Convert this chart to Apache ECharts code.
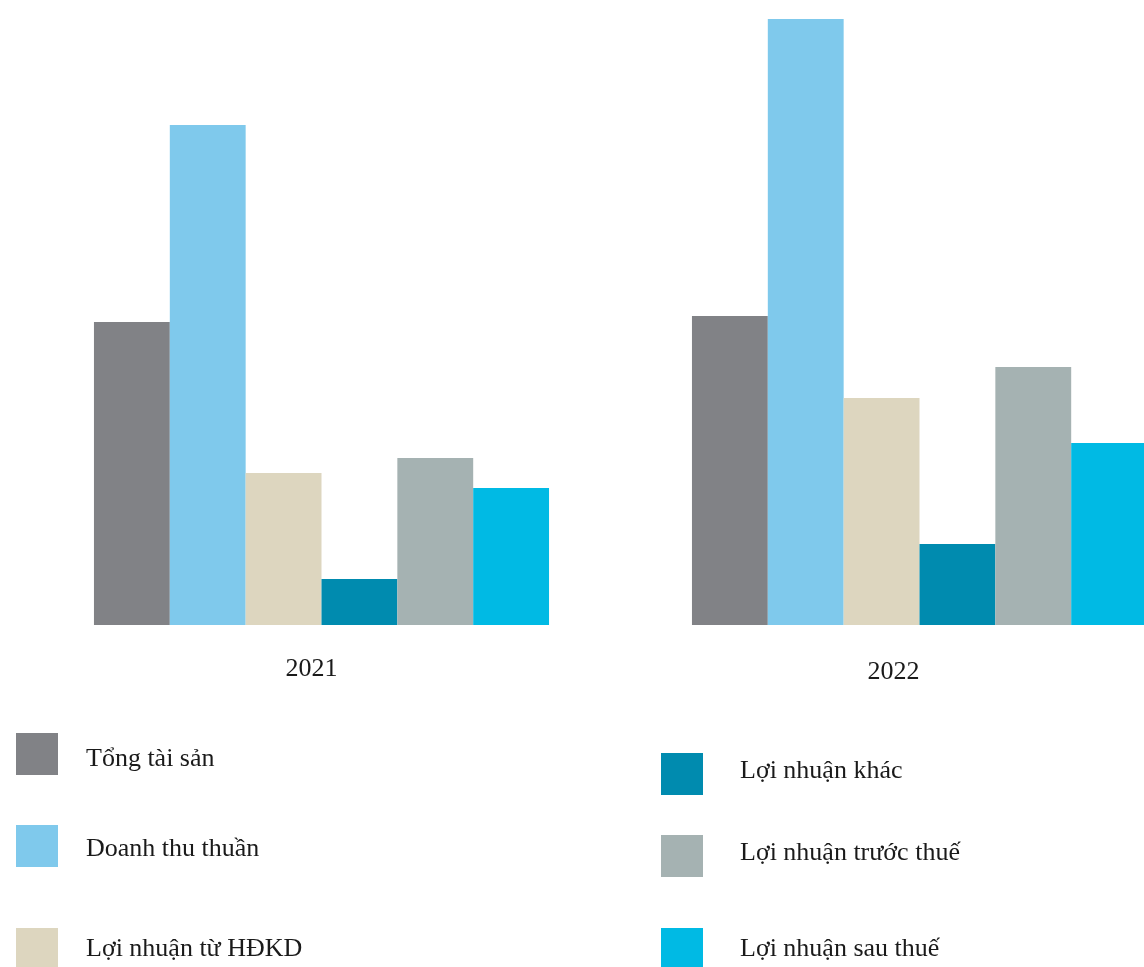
<!DOCTYPE html>
<html>
<head>
<meta charset="utf-8">
<script src="https://cdn.jsdelivr.net/npm/echarts@6/dist/echarts.min.js"></script>
<style>
html,body{margin:0;padding:0;background:#fff;}
#chart{width:1144px;height:967px;}
</style>
</head>
<body>
<div id="chart"></div>
<script>
const categories = ['2021', '2022'];
const seriesNames = ['Tổng tài sản', 'Doanh thu thuần', 'Lợi nhuận từ HĐKD', 'Lợi nhuận khác', 'Lợi nhuận trước thuế', 'Lợi nhuận sau thuế'];
const tongTaiSan = [303, 309];
const doanhThuThuan = [500, 606];
const lnHDKD = [152, 227];
const lnKhac = [46, 81];
const lnTruocThue = [167, 258];
const lnSauThue = [137, 182];
const seriesValues = [tongTaiSan, doanhThuThuan, lnHDKD, lnKhac, lnTruocThue, lnSauThue];
const colors = ['#818286', '#7FC9EC', '#DDD6BF', '#008BAF', '#A5B2B2', '#00BAE4'];

const FONT = '"Liberation Serif", "Times New Roman", serif';
const legendPos = [
  {left: 16, top: 733, pad: [10, 0, 0, 23]},
  {left: 16, top: 825, pad: [6, 0, 0, 23]},
  {left: 16, top: 928, pad: [0, 0, 0, 23]},
  {left: 661, top: 753, pad: [0, 0, 6, 32]},
  {left: 661, top: 835, pad: [0, 0, 6, 32]},
  {left: 661, top: 928, pad: [0, 0, 0, 32]}
];

const chart = echarts.init(document.getElementById('chart'));
chart.setOption({
  animation: false,
  backgroundColor: '#ffffff',
  color: colors,
  grid: {left: 22.5, width: 1196, top: 0, height: 625, containLabel: false, outerBoundsMode: 'none'},
  xAxis: {
    type: 'category',
    data: categories,
    axisLine: {show: false},
    axisTick: {show: false},
    axisLabel: {
      margin: 31,
      fontFamily: FONT,
      fontSize: 26,
      color: '#1a1a1a',
      formatter: function (v) { return v === '2021' ? '{a|' + v + '}' : '{b|' + v + '}'; },
      rich: {
        a: {fontFamily: FONT, fontSize: 26, color: '#1a1a1a', padding: [0, 20, 0, 0]},
        b: {fontFamily: FONT, fontSize: 26, color: '#1a1a1a', padding: [3, 52, 0, 0]}
      }
    }
  },
  yAxis: {
    type: 'value',
    min: 0,
    max: 625,
    show: false,
    splitLine: {show: false}
  },
  legend: legendPos.map((p, i) => ({
    left: p.left,
    top: p.top,
    padding: 0,
    orient: 'vertical',
    icon: 'rect',
    itemWidth: 42,
    itemHeight: 42,
    selectedMode: false,
    data: [seriesNames[i]],
    formatter: function (name) { return '{t|' + name + '}'; },
    textStyle: {
      fontFamily: FONT, fontSize: 26, color: '#1a1a1a',
      rich: {t: {fontFamily: FONT, fontSize: 26, color: '#1a1a1a', padding: p.pad}}
    }
  })),
  series: seriesNames.map((name, i) => ({
    name: name,
    type: 'bar',
    data: seriesValues[i],
    barGap: '0%',
    barCategoryGap: '23.9%',
    itemStyle: {color: colors[i]}
  }))
});
</script>
</body>
</html>
